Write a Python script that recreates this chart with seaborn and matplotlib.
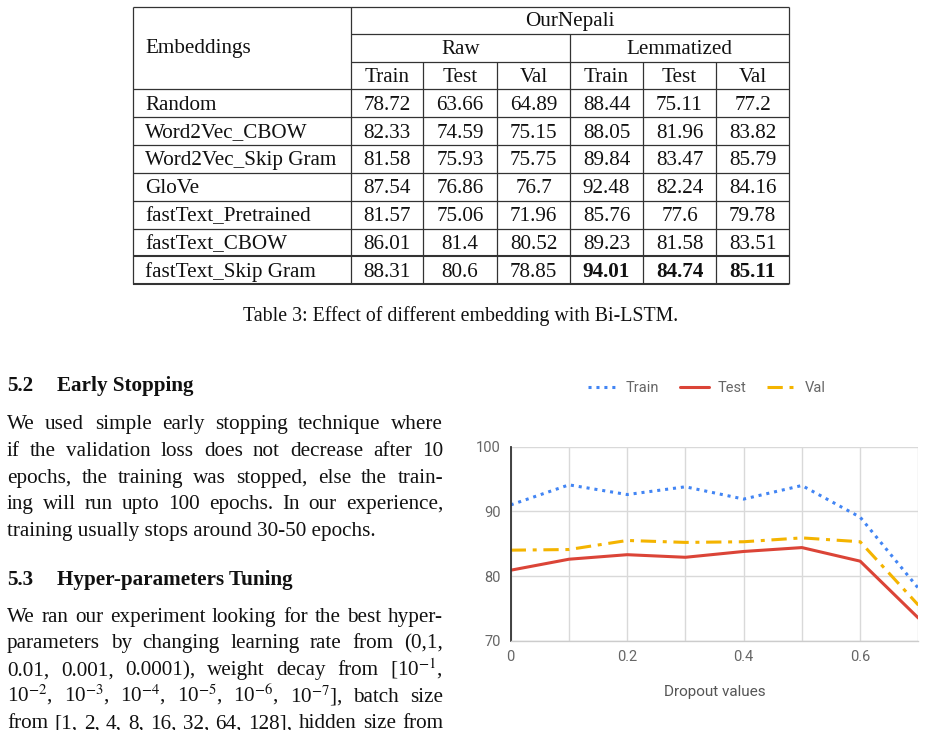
import numpy as np
import pandas as pd
import matplotlib
matplotlib.use("Agg")
import matplotlib.pyplot as plt
from matplotlib.ticker import MultipleLocator, FuncFormatter
import seaborn as sns

# Table 3 values
embeddings = ["Random", "Word2Vec_CBOW", "Word2Vec_Skip Gram", "GloVe",
              "fastText_Pretrained", "fastText_CBOW", "fastText_Skip Gram"]
raw_train = [78.72, 82.33, 81.58, 87.54, 81.57, 86.01, 88.31]
raw_test = [63.66, 74.59, 75.93, 76.86, 75.06, 81.4, 80.6]
raw_val = [64.89, 75.15, 75.75, 76.7, 71.96, 80.52, 78.85]
lem_train = [88.44, 88.05, 89.84, 92.48, 85.76, 89.23, 94.01]
lem_test = [75.11, 81.96, 83.47, 82.24, 77.6, 81.58, 84.74]
lem_val = [77.2, 83.82, 85.79, 84.16, 79.78, 83.51, 85.11]

# dropout chart values
dropout = [0, 0.1, 0.2, 0.3, 0.4, 0.5, 0.6, 0.7]
train_acc = [91.0, 94.1, 92.6, 93.8, 91.9, 94.0, 89.1, 78.1]
test_acc = [80.9, 82.6, 83.3, 82.9, 83.8, 84.4, 82.3, 73.5]
val_acc = [84.0, 84.1, 85.5, 85.2, 85.3, 85.9, 85.3, 75.5]

sns.set_theme(style="white")
plt.rcParams["font.family"] = ["Liberation Serif", "DejaVu Serif"]
plt.rcParams["mathtext.fontset"] = "stix"

W, H = 930, 730
fig = plt.figure(figsize=(W / 100, H / 100), dpi=100)
page = fig.add_axes([0, 0, 1, 1])
page.set_xlim(0, W)
page.set_ylim(H, 0)
page.axis("off")
renderer = fig.canvas.get_renderer()

FS = 15.2
ink = "#111111"

# ---- table ----
lc = "#333333"
x_left, x_emb, x_right = 133, 351, 789
col_edges = [351, 423, 497, 570, 643, 716, 789]
y_top, y_h1, y_h2, y_head = 7, 33.5, 61.7, 89.3
row_h = 27.86
n_rows = len(embeddings)
y_bot = y_head + n_rows * row_h

page.hlines(y_top, x_left, x_right, color=lc, lw=0.9)
page.hlines([y_h1, y_h2], x_emb, x_right, color=lc, lw=0.9)
for i in range(n_rows + 1):
    y = y_head + i * row_h
    thick = 1.5 if i >= n_rows - 1 else 0.9
    page.hlines(y, x_left, x_right, color=lc, lw=thick)
page.vlines([x_left, x_emb, x_right], y_top, y_bot, color=lc, lw=0.9)
page.vlines(570, y_h1, y_bot, color=lc, lw=0.9)
page.vlines([423, 497, 643, 716], y_h2, y_bot, color=lc, lw=0.9)

page.text(145, 53.5, "Embeddings", fontsize=FS, color=ink, va="baseline")
page.text((x_emb + x_right) / 2, y_h1 - 7.5, "OurNepali", fontsize=FS, color=ink, ha="center", va="baseline")
page.text((351 + 570) / 2, y_h2 - 7.5, "Raw", fontsize=FS, color=ink, ha="center", va="baseline")
page.text((570 + 789) / 2, y_h2 - 7.5, "Lemmatized", fontsize=FS, color=ink, ha="center", va="baseline")
subs = ["Train", "Test", "Val"] * 2
for j, s in enumerate(subs):
    cx = (col_edges[j] + col_edges[j + 1]) / 2
    page.text(cx, y_head - 7.5, s, fontsize=FS, color=ink, ha="center", va="baseline")

cols = [raw_train, raw_test, raw_val, lem_train, lem_test, lem_val]
for i, name in enumerate(embeddings):
    yb = y_head + (i + 1) * row_h - 7.5
    page.text(145, yb, name, fontsize=FS, color=ink, va="baseline")
    for j, col in enumerate(cols):
        cx = (col_edges[j] + col_edges[j + 1]) / 2
        bold = (i == n_rows - 1) and j >= 3
        page.text(cx, yb, f"{col[i]:g}", fontsize=FS, color=ink, ha="center", va="baseline",
                  fontweight="bold" if bold else "normal")

page.text(461, 321, "Table 3: Effect of different embedding with Bi-LSTM.", fontsize=14.3,
          color=ink, ha="center", va="baseline")

# ---- left column text ----
def justify(line, y, x0=7, x1=443, fs=FS):
    words = line.split()
    texts = [page.text(0, y, w, fontsize=fs, color=ink, va="baseline") for w in words]
    widths = [t.get_window_extent(renderer).width for t in texts]
    gap = (x1 - x0 - sum(widths)) / (len(words) - 1)
    x = x0
    for t, w in zip(texts, widths):
        t.set_x(x)
        x += w + gap

def heading(num, title, y):
    page.text(7, y, num, fontsize=FS, fontweight="bold", color=ink, va="baseline")
    page.text(57, y, title, fontsize=FS, fontweight="bold", color=ink, va="baseline")

heading("5.2", "Early Stopping", 390.7)
p1 = ["We used simple early stopping technique where",
      "if the validation loss does not decrease after 10",
      "epochs, the training was stopped, else the train-",
      "ing will run upto 100 epochs.  In our experience,"]
for k, ln in enumerate(p1):
    justify(ln, 429.3 + k * 26.7)
page.text(7, 429.3 + 4 * 26.7, "training usually stops around 30-50 epochs.", fontsize=FS,
          color=ink, va="baseline")

heading("5.3", "Hyper-parameters Tuning", 585)
p2 = ["We ran our experiment looking for the best hyper-",
      "parameters by changing learning rate from (0,1,",
      r"0.01, 0.001, 0.0001), weight decay from [10$^{-1}$,",
      r"10$^{-2}$, 10$^{-3}$, 10$^{-4}$, 10$^{-5}$, 10$^{-6}$, 10$^{-7}$], batch size",
      "from [1, 2, 4, 8, 16, 32, 64, 128], hidden size from"]
for k, ln in enumerate(p2):
    justify(ln, 621.7 + k * 26.7)

# ---- dropout chart ----
x0, x1 = 510.7, 918.4
y100, y70 = 446.7, 640.7
ax = fig.add_axes([x0 / W, 1 - y70 / H, (x1 - x0) / W, (y70 - y100) / H])

df = pd.DataFrame({"Dropout": dropout, "Train": train_acc, "Test": test_acc, "Val": val_acc})
styles = {
    "Train": dict(color="#4285F4", linestyle=(0, (1, 1.6))),
    "Test": dict(color="#DB4437", linestyle="-"),
    "Val": dict(color="#F4B400", linestyle=(0, (5, 2.2, 1.3, 2.2))),
}
for name, st in styles.items():
    sns.lineplot(data=df, x="Dropout", y=name, ax=ax, label=name, lw=2.2, **st)

ax.set_xlim(0, 0.7)
ax.set_ylim(70, 100)
ax.xaxis.set_major_locator(MultipleLocator(0.2))
ax.xaxis.set_minor_locator(MultipleLocator(0.1))
ax.yaxis.set_major_locator(MultipleLocator(10))
ax.xaxis.set_major_formatter(FuncFormatter(lambda v, p: f"{v:g}"))
ax.grid(which="both", axis="both", color="#d9d9d9", lw=1)
ax.set_axisbelow(True)
for s in ["top", "right"]:
    ax.spines[s].set_visible(False)
ax.spines["left"].set_color("#333333")
ax.spines["left"].set_linewidth(1.3)
ax.spines["bottom"].set_color("#cccccc")
ax.spines["bottom"].set_linewidth(1)
ax.tick_params(which="both", length=0, labelsize=10.5, labelcolor="#666666")
ax.tick_params(axis="x", pad=7)
ax.tick_params(axis="y", pad=7)
for lab in ax.get_xticklabels() + ax.get_yticklabels():
    lab.set_fontfamily(["Roboto", "DejaVu Sans"])
ax.set_ylabel("")
ax.set_xlabel("Dropout values", fontsize=11, color="#555555", family=["Roboto", "DejaVu Sans"],
              labelpad=15)

handles, labels = ax.get_legend_handles_labels()
ax.legend_.remove()
fig.legend(handles, labels, loc="center", bbox_to_anchor=(707 / W, 1 - 388 / H), ncol=3,
           frameon=False, handlelength=2.0, columnspacing=1.4, handletextpad=0.6,
           prop={"family": ["Roboto", "DejaVu Sans"], "size": 10.5}, labelcolor="#666666")

fig.savefig("out.png", dpi=100)
